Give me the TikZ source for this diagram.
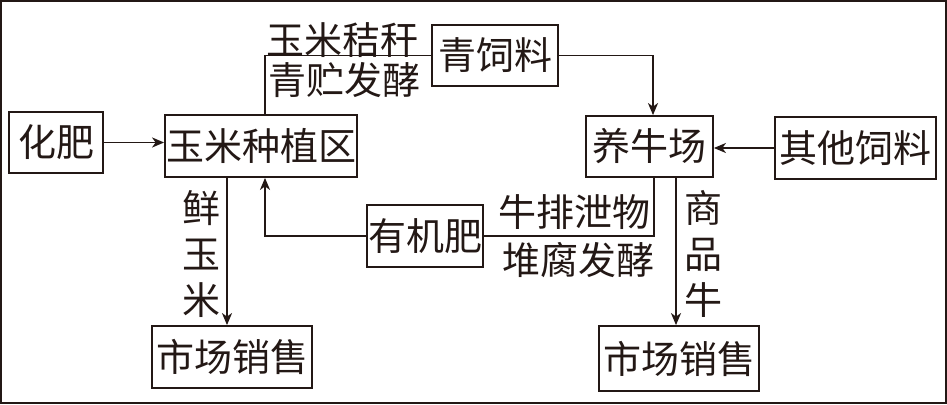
\documentclass[tikz,border=0pt]{standalone}
\usepackage{fontspec}
\newfontfamily\cjk{Noto Sans CJK SC}
\usetikzlibrary{arrows.meta}
\definecolor{ink}{HTML}{231815}
\tikzset{%
   box/.style={draw=ink, line width=1.8pt, inner sep=0pt, text=ink},
   lbl/.style={inner sep=0pt, text=ink, align=center},
   conn/.style={draw=ink, line width=1.8pt},
   arr/.style={conn, -{Stealth[length=12pt, width=10pt, inset=3.5pt]}},
}

\begin{document}
\begin{tikzpicture}[x=1pt, y=-1pt, font=\cjk\fontsize{38}{46}\selectfont]
      \draw[ink, line width=2pt] (1,1) rectangle (946,403);
      % boxes
      \node[box, minimum width=94pt, minimum height=61pt] (hf) at (56,142.5) {化肥};
      \node[box, minimum width=192pt, minimum height=62pt] (zz) at (261,146) {玉米种植区};
      \node[box, minimum width=126pt, minimum height=61pt] (qs) at (495,55.5) {青饲料};
      \node[box, minimum width=127pt, minimum height=61pt] (yn) at (649.5,146.5) {养牛场};
      \node[box, minimum width=161pt, minimum height=62pt] (qt) at (855.5,148) {其他饲料};
      \node[box, minimum width=116pt, minimum height=62pt] (yj) at (425,236) {有机肥};
      \node[box, minimum width=160pt, minimum height=62pt] (sc1) at (232,357) {市场销售};
      \node[box, minimum width=160pt, minimum height=65pt] (sc2) at (679,358.5) {市场销售};
      % labels
      \node[lbl] (l1) at (342,40) {玉米秸秆};
      \node[lbl] (l2) at (344,80) {青贮发酵};
      \node[lbl] (l3) at (574,212) {牛排泄物};
      \node[lbl] (l4) at (578,260) {堆腐发酵};
      \node[lbl] (l5) at (201,254) {鲜\\玉\\米};
      \node[lbl] (l6) at (703,254) {商\\品\\牛};
      % connectors
      \draw[arr] (hf.east) -- (hf.east -| zz.west);
      \draw[conn] ([xshift=4pt]zz.north) |- (qs.west);
      \draw[arr] (qs.east) -| ([xshift=3.5pt]yn.north);
      \draw[arr] (qt.west) -- (qt.west -| yn.east);
      \draw[conn] ([xshift=4.5pt]yn.south) |- (yj.east);
      \draw[arr] (yj.west) -| ([xshift=4pt]zz.south);
      \draw[arr] ([xshift=-34pt]zz.south) -- ([xshift=-34pt]zz.south |- sc1.north);
      \draw[arr] ([xshift=26.5pt]yn.south) -- ([xshift=26.5pt]yn.south |- sc2.north);
\end{tikzpicture}
\end{document}
